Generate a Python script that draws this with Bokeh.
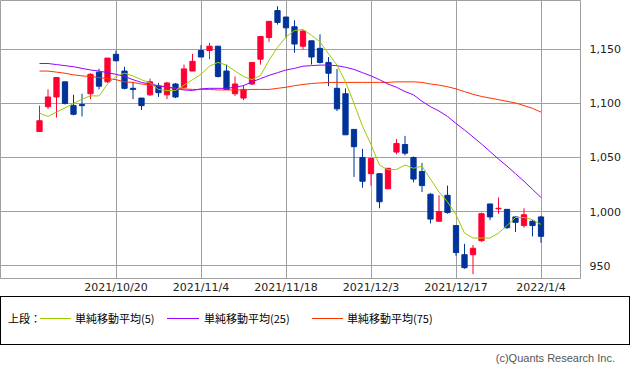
from bokeh.plotting import figure
from bokeh.layouts import column
from bokeh.models import ColumnDataSource, Range1d, FixedTicker, NumeralTickFormatter, Div
from bokeh.embed import file_html
from bokeh.resources import INLINE

# ---------------- data ----------------
dates = [
    "2021/10/7", "2021/10/8", "2021/10/11", "2021/10/12", "2021/10/13", "2021/10/14", "2021/10/15",
    "2021/10/18", "2021/10/19", "2021/10/20", "2021/10/21", "2021/10/22", "2021/10/25", "2021/10/26",
    "2021/10/27", "2021/10/28", "2021/10/29", "2021/11/1", "2021/11/2", "2021/11/4", "2021/11/5",
    "2021/11/8", "2021/11/9", "2021/11/10", "2021/11/11", "2021/11/12", "2021/11/15", "2021/11/16",
    "2021/11/17", "2021/11/18", "2021/11/19", "2021/11/22", "2021/11/24", "2021/11/25", "2021/11/26",
    "2021/11/29", "2021/11/30", "2021/12/1", "2021/12/2", "2021/12/3", "2021/12/6", "2021/12/7",
    "2021/12/8", "2021/12/9", "2021/12/10", "2021/12/13", "2021/12/14", "2021/12/15", "2021/12/16",
    "2021/12/17", "2021/12/20", "2021/12/21", "2021/12/22", "2021/12/23", "2021/12/24", "2021/12/27",
    "2021/12/28", "2021/12/29", "2021/12/30", "2022/1/4",
]
tick_labels = ["2021/10/20", "2021/11/4", "2021/11/18", "2021/12/3", "2021/12/17", "2022/1/4"]
y_ticks = [950, 1000, 1050, 1100, 1150]

opens = [1074, 1097, 1106, 1120, 1098, 1099, 1109, 1129, 1120, 1145.5,
         1130, 1114, 1105, 1108, 1116, 1108, 1118, 1115, 1130, 1149,
         1149, 1153, 1130, 1109, 1105, 1118, 1141, 1161, 1186, 1180,
         1171, 1153, 1158, 1151, 1138, 1114, 1109, 1076, 1050, 1035,
         1035, 1021, 1055, 1062, 1050, 1037, 1016, 991, 1015, 987,
         960, 960, 973, 1007, 1002.5, 1002, 995, 987, 991, 995]
closes = [1084, 1106, 1124, 1100, 1090, 1098, 1127, 1116, 1142, 1139.5,
          1114, 1113, 1098, 1120, 1110, 1119, 1106, 1132, 1139, 1143,
          1153, 1125, 1113, 1118, 1113, 1138, 1162, 1176, 1175, 1170,
          1155, 1167, 1143, 1138, 1128, 1095, 1071, 1060, 1028, 1049,
          1009, 1040, 1063, 1054, 1030, 1024, 993, 1000, 999, 962,
          948, 966, 998, 995, 1003, 985, 990, 997, 987, 977]
highs = [1098, 1113, 1124, 1120, 1108, 1109, 1128, 1132, 1142, 1149,
         1134, 1120, 1105, 1123, 1119, 1120, 1119, 1136, 1146, 1154,
         1156, 1153, 1136, 1125, 1117, 1138, 1162, 1176, 1190, 1180,
         1177, 1168, 1158, 1164, 1143, 1132, 1114, 1076, 1058, 1049,
         1035, 1040, 1067, 1070, 1051, 1045, 1017, 1015, 1024, 987,
         970, 969, 999, 1007, 1013, 1002, 995, 1003, 992, 996]
lows = [1074, 1095, 1087, 1099, 1089, 1088, 1104, 1113, 1119, 1139,
        1113, 1104, 1094, 1107, 1106, 1104, 1105, 1114, 1130, 1143,
        1141, 1124, 1113, 1107, 1103, 1117, 1136, 1157, 1173, 1161,
        1147, 1150, 1136, 1137, 1116, 1093, 1071, 1032, 1022, 1024,
        1003, 1021, 1053, 1052, 1027, 1018, 989, 991, 998, 959,
        947, 942, 972, 992, 998, 984, 981, 985, 977, 971]

ma5 = [1091, 1088, 1092, 1096, 1100, 1104, 1107, 1107, 1118, 1125,
       1128, 1125.5, 1122, 1119, 1113, 1112, 1112, 1117, 1122, 1127,
       1134.5, 1138, 1135.5, 1130, 1125, 1122, 1126, 1140, 1152, 1161.5,
       1167.5, 1168.5, 1163, 1157, 1146, 1135.5, 1120, 1100, 1079, 1062,
       1043, 1038.5, 1039, 1043, 1040, 1042, 1030, 1018, 1009, 997,
       980, 975.5, 975.5, 975.5, 980, 987, 994.5, 994.5, 992.5, 988]
ma25 = [1137, 1137, 1136, 1135, 1134, 1132.5, 1131, 1130, 1128.5, 1127,
        1125, 1122, 1119.5, 1118, 1116.5, 1115, 1114, 1112.5, 1112, 1113.5,
        1114, 1114, 1114, 1115, 1116.5, 1120, 1123, 1126, 1128.5, 1131,
        1132.5, 1134.5, 1135, 1135.5, 1135.5, 1135, 1133.5, 1131.5, 1128.5, 1125.5,
        1122, 1118, 1115, 1111, 1108, 1102, 1097, 1093, 1088, 1081.5,
        1075.5, 1069, 1062.5, 1055.5, 1048.5, 1042, 1035, 1028, 1020.5, 1013]
ma75 = [1130, 1130, 1129, 1128, 1126.5, 1125.5, 1125, 1124, 1123, 1122,
        1120, 1119.5, 1118, 1117, 1116.5, 1115, 1114, 1113.5, 1113, 1113,
        1113, 1112.5, 1112.5, 1112.5, 1112.5, 1113, 1113, 1113, 1114, 1115,
        1116.5, 1117.5, 1118.5, 1119, 1119.5, 1119.5, 1119.5, 1119.5, 1119.5, 1119.5,
        1119.5, 1119.5, 1120, 1120, 1120, 1119.5, 1118, 1117, 1115.5, 1113.5,
        1111, 1108.5, 1106.5, 1105, 1103.5, 1102, 1100.5, 1098, 1095.5, 1092]

legend_title = "上段："
ma_labels = ["単純移動平均(5)", "単純移動平均(25)", "単純移動平均(75)"]
credit = "(c)Quants Research Inc."

# ---------------- styles ----------------
UP = "#ff0033"
DOWN = "#003399"
MA_COLORS = ["#99cc00", "#9900ff", "#ff3300"]
GRID = "#a0a0a0"
FONT = "DejaVu Sans"
JFONT = "Noto Sans CJK JP"

idx = list(range(len(dates)))
colors = [UP if c > o else DOWN for o, c in zip(opens, closes)]
src = ColumnDataSource(dict(
    x=idx, o=opens, c=closes, h=highs, l=lows, color=colors,
    top=[max(o, c) for o, c in zip(opens, closes)],
    bottom=[min(o, c) for o, c in zip(opens, closes)],
))

STEP = 8.5      # px per trading day
X0 = 39         # px position of first candle
FRAME_W = 580
p = figure(width=633, height=296,
           x_range=Range1d(-X0 / STEP, (FRAME_W - X0) / STEP),
           y_range=Range1d(938, 1195.3),
           output_backend="svg", toolbar_location=None,
           y_axis_location="right",
           min_border_left=0, min_border_right=633 - FRAME_W,
           min_border_top=0, min_border_bottom=16)
p.outline_line_color = GRID
p.outline_line_width = 1
p.background_fill_color = "white"
p.border_fill_color = "white"

xt = [dates.index(t) for t in tick_labels]
p.xaxis.ticker = FixedTicker(ticks=xt)
p.xaxis.major_label_overrides = {i: dates[i] for i in xt}
p.yaxis.ticker = FixedTicker(ticks=y_ticks)
p.yaxis.formatter = NumeralTickFormatter(format="0,0")
for ax in (p.xaxis[0], p.yaxis[0]):
    ax.axis_line_color = None
    ax.major_tick_line_color = None
    ax.minor_tick_line_color = None
    ax.major_tick_out = 0
    ax.major_tick_in = 0
    ax.major_label_text_font = FONT
    ax.major_label_text_font_size = "11px"
    ax.major_label_text_color = "#222222"
p.xaxis.major_label_standoff = 2
p.yaxis.major_label_standoff = 9

p.xgrid.ticker = FixedTicker(ticks=xt)
p.ygrid.ticker = FixedTicker(ticks=y_ticks)
p.grid.grid_line_color = GRID
p.grid.grid_line_width = 1

p.segment(x0="x", y0="l", x1="x", y1="h", color="color", line_width=1, source=src)
p.vbar(x="x", width=0.62, top="top", bottom="bottom",
       fill_color="color", line_color="color", line_width=1, source=src)

for series, col in zip([ma75, ma25, ma5], [MA_COLORS[2], MA_COLORS[1], MA_COLORS[0]]):
    p.line(idx, series, line_color=col, line_width=1)

# ---------------- legend strip (HTML) ----------------
line_x = [(40, 71), (167, 199), (312, 343)]
text_x = [75, 204, 347]
txt_style = ("position:absolute;top:14px;line-height:16px;font-size:11px;"
             "font-family:'Noto Sans CJK JP';color:#000;white-space:nowrap;")
parts = [
    '<div style="position:relative;width:633px;height:76px;margin:0;padding:0;background:#fff;">',
    '<div style="position:absolute;left:0;top:0;width:630px;height:49px;border:1px solid #000;"></div>',
    f'<span style="{txt_style}left:8px;">{legend_title}</span>',
]
for (xa, xb), tx, lab, col in zip(line_x, text_x, ma_labels, MA_COLORS):
    parts.append(f'<div style="position:absolute;left:{xa}px;top:22px;width:{xb - xa}px;'
                 f'height:0;border-top:1px solid {col};"></div>')
    parts.append(f'<span style="{txt_style}left:{tx}px;">{lab}</span>')
parts.append('<span style="position:absolute;right:18px;top:54px;line-height:16px;'
             "font-size:11px;font-family:'Liberation Sans';color:#555;white-space:nowrap;\">"
             f'{credit}</span>')
parts.append('</div>')
legend = Div(text="".join(parts), width=633, height=76, margin=0)

layout = column(p, legend, spacing=0)

open("out.html", "w").write(file_html(layout, INLINE))
